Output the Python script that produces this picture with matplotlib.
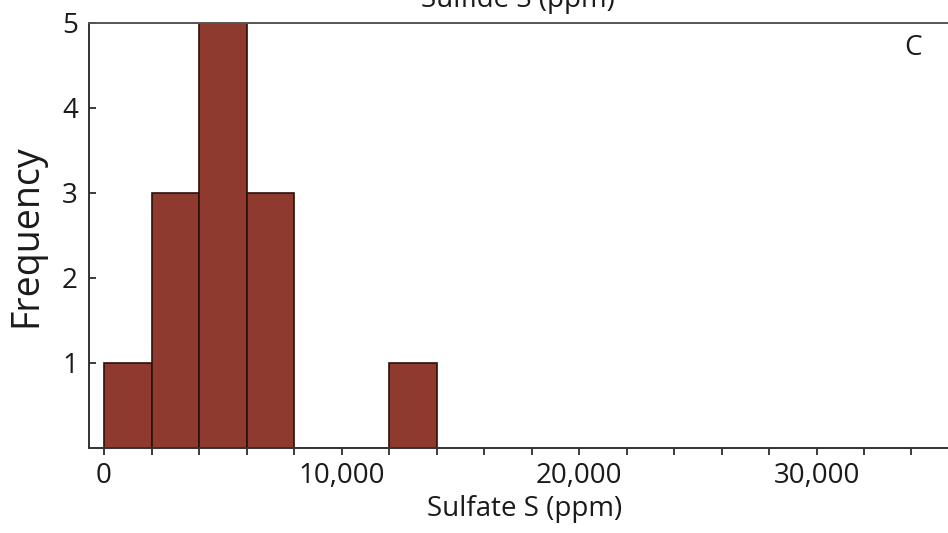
import matplotlib
matplotlib.use("Agg")
import matplotlib.pyplot as plt
from matplotlib.ticker import MultipleLocator, FuncFormatter

# histogram data (bin edges in ppm, counts per bin)
bin_edges = [0, 2000, 4000, 6000, 8000, 10000, 12000, 14000]
counts = [1, 3, 5, 3, 0, 0, 1]
x_tick_vals = [0, 10000, 20000, 30000]
y_tick_vals = [1, 2, 3, 4, 5]

BAR_COLOR = '#8e3a2e'
EDGE_COLOR = '#2e0f0a'

plt.rcParams['font.family'] = ['Open Sans', 'DejaVu Sans']

fig = plt.figure(figsize=(9.48, 5.33), dpi=100)
ax = fig.add_axes([0.0939, 0.1595, 0.9061, 0.7974])

lefts = bin_edges[:-1]
widths = [b - a for a, b in zip(bin_edges[:-1], bin_edges[1:])]
ax.bar(lefts, counts, width=widths, align='edge', color=BAR_COLOR,
       edgecolor=EDGE_COLOR, linewidth=1.2, zorder=2)

ax.set_xlim(-632, 35537)
ax.set_ylim(0, 5)

ax.set_xticks(x_tick_vals)
ax.xaxis.set_minor_locator(MultipleLocator(2000))
ax.xaxis.set_major_formatter(FuncFormatter(lambda v, p: f'{int(v):,}'))
ax.set_yticks(y_tick_vals)

ax.tick_params(axis='x', which='both', direction='out', length=5, width=1.2,
               labelsize=20, pad=5, colors='#1a1a1a')
ax.tick_params(axis='y', direction='in', length=5, width=1.2,
               labelsize=20, pad=8, colors='#1a1a1a')

for s in ['left', 'bottom', 'top']:
    ax.spines[s].set_linewidth(1.4)
    ax.spines[s].set_color('#333333')
ax.spines['top'].set_color('#555555')
ax.spines['right'].set_visible(False)

ax.set_xlabel('Sulfate S (ppm)', fontsize=20, color='#1a1a1a')
ax.xaxis.set_label_coords((525 - 89) / (948 - 89), -0.11)
ax.set_ylabel('Frequency', fontsize=27, labelpad=12, color='#1a1a1a')

# panel letter
ax.text(913, 533 - 48, 'C', transform=None, fontsize=20, ha='center',
        va='center', color='#1a1a1a')
# cut-off axis label of the panel above
fig.text(518 / 948, 1 - 7 / 533, 'Sulfide S (ppm)', fontsize=20,
         ha='center', va='baseline', color='#1a1a1a')

fig.savefig('out.png', dpi=100)
